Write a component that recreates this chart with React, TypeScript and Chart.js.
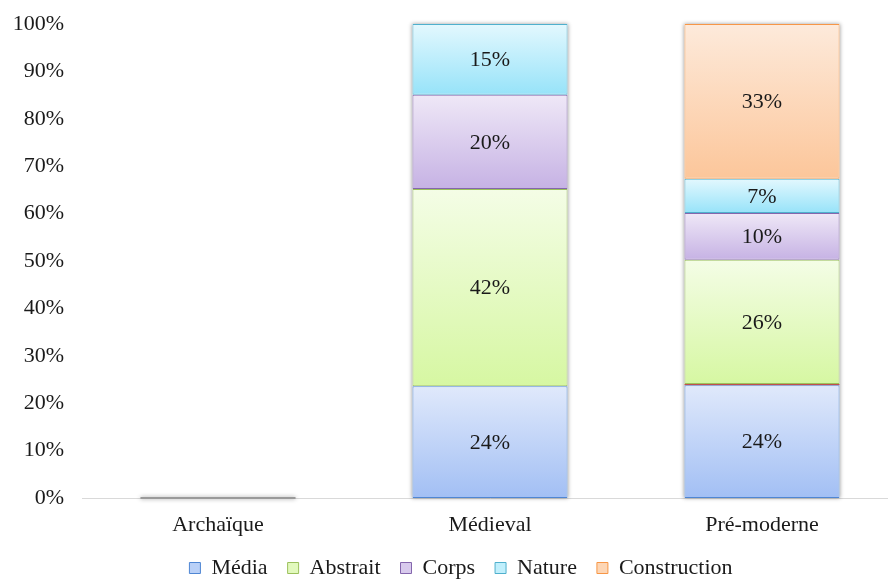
import React, { useEffect, useRef } from "react";
import { Chart, registerables } from "chart.js";

Chart.register(...registerables);

const categories = ["Archaïque", "Médieval", "Pré-moderne"];
const seriesNames = ["Média", "", "Abstrait", "Corps", "Nature", "Construction"];
const media = [0, 23.6, 23.8];
const trace = [0, 0, 0.25];
const abstrait = [0, 41.6, 26.2];
const corps = [0, 19.9, 9.9];
const nature = [0, 14.9, 7.2];
const construction = [0, 0, 32.65];
const yTicks = [0, 10, 20, 30, 40, 50, 60, 70, 80, 90, 100];

const seriesValues = [media, trace, abstrait, corps, nature, construction];
const gradTop = ["#e0e9fb", "#c0504d", "#f4fde6", "#efe8f7", "#e3f8fe", "#fdeadb"];
const gradBottom = ["#a2bff4", "#c0504d", "#d6f7a2", "#c6b2e4", "#97e3f9", "#fcc69a"];
const borders = ["#4f86d3", "#c0504d", "#9bc05c", "#8466ad", "#4fb0cd", "#f79646"];
const legendFill = ["#b9d0f7", "#c0504d", "#e2f9bd", "#d8caed", "#c0effc", "#fdd6b5"];

const FONT = "'Liberation Serif', 'Times New Roman', serif";

export default function App() {
  const ref = useRef<HTMLCanvasElement>(null);

  useEffect(() => {
    const canvas = ref.current;
    if (!canvas) return;

    const segGradient = (context: any) => {
      const chart = context.chart;
      const ds = context.datasetIndex;
      const i = context.dataIndex;
      const y = chart.scales && chart.scales.y;
      if (!y || !chart.chartArea || i === undefined) return gradBottom[ds];
      let start = 0;
      for (let k = 0; k < ds; k++) start += seriesValues[k][i];
      const end = start + seriesValues[ds][i];
      const p0 = y.getPixelForValue(start);
      const p1 = y.getPixelForValue(end);
      if (!isFinite(p0) || !isFinite(p1) || p0 === p1) return gradBottom[ds];
      const g = chart.ctx.createLinearGradient(0, p1, 0, p0);
      g.addColorStop(0, gradTop[ds]);
      g.addColorStop(1, gradBottom[ds]);
      return g;
    };

    const labelPlugin = {
      id: "segLabels",
      afterLayout(chart: any) {
        if (chart.legend) {
          chart.legend.left += 24;
        }
      },
      beforeDatasetsDraw(chart: any) {
        const ctx = chart.ctx;
        const yScale = chart.scales.y;
        const meta0 = chart.getDatasetMeta(0);
        categories.forEach((_, i) => {
          let total = 0;
          seriesValues.forEach((s) => (total += s[i]));
          const el = meta0.data[i];
          const y0 = yScale.getPixelForValue(0);
          ctx.save();
          ctx.shadowColor = "rgba(0,0,0,0.4)";
          ctx.shadowBlur = 4;
          if (total === 0) {
            ctx.strokeStyle = "#9a9a9a";
            ctx.lineWidth = 2;
            ctx.beginPath();
            ctx.moveTo(el.x - el.width / 2, y0);
            ctx.lineTo(el.x + el.width / 2, y0);
            ctx.stroke();
          } else {
            const yt = yScale.getPixelForValue(total);
            ctx.fillStyle = "#ffffff";
            ctx.fillRect(el.x - el.width / 2, yt, el.width, y0 - yt);
          }
          ctx.restore();
        });
      },
      afterDatasetsDraw(chart: any) {
        const ctx = chart.ctx;
        ctx.save();
        ctx.font = `22px ${FONT}`;
        ctx.fillStyle = "#1a1a1a";
        ctx.textAlign = "center";
        ctx.textBaseline = "middle";
        chart.data.datasets.forEach((d: any, di: number) => {
          const meta = chart.getDatasetMeta(di);
          d.data.forEach((v: number, i: number) => {
            if (v < 1) return;
            const el = meta.data[i];
            ctx.fillText(`${Math.round(v)}%`, el.x, (el.y + el.base) / 2 + 1);
          });
        });
        ctx.restore();
      },
    };

    const chart = new Chart(canvas, {
      type: "bar",
      data: {
        labels: categories,
        datasets: seriesValues.map((vals, k) => ({
          label: seriesNames[k],
          data: vals,
          backgroundColor: segGradient,
          borderColor: borders[k],
          borderWidth: k === 1 ? 0 : 1,
          borderSkipped: false,
          barPercentage: 0.57,
          categoryPercentage: 1,
        })),
      },
      options: {
        animation: false,
        responsive: false,
        devicePixelRatio: 1,
        layout: { padding: { top: 24, left: 0, right: 2, bottom: 0 } },
        scales: {
          x: {
            stacked: true,
            grid: { display: false, drawTicks: false },
            border: { display: true, color: "#d9d9d9", width: 1 },
            ticks: { color: "#1a1a1a", font: { family: FONT, size: 22 }, padding: 14 },
            afterFit: (s: any) => {
              s.height = 39;
            },
          },
          y: {
            stacked: true,
            min: 0,
            max: 100,
            afterBuildTicks: (s: any) => {
              s.ticks = yTicks.map((v) => ({ value: v }));
            },
            grid: { display: false, drawTicks: false },
            border: { display: false },
            ticks: {
              color: "#1a1a1a",
              font: { family: FONT, size: 22 },
              padding: 18,
              callback: (v: any) => `${v}%`,
            },
            afterFit: (s: any) => {
              s.width = 82;
              s.paddingTop = 0;
              s.paddingBottom = 0;
            },
          },
        },
        plugins: {
          tooltip: { enabled: false },
          legend: {
            position: "bottom",
            labels: {
              boxWidth: 11,
              boxHeight: 11,
              padding: 20,
              color: "#1a1a1a",
              font: { family: FONT, size: 22 },
              generateLabels: () =>
                seriesNames
                  .map((name, k) => ({
                    text: name,
                    fillStyle: legendFill[k],
                    strokeStyle: borders[k],
                    lineWidth: 1,
                    hidden: false,
                    datasetIndex: k,
                    fontColor: "#1a1a1a",
                  }))
                  .filter((it) => it.text !== ""),
            },
          },
        },
      },
      plugins: [labelPlugin],
    } as any);

    return () => chart.destroy();
  }, []);

  return (
    <div style={{ position: "fixed", left: 0, top: 0, width: 900, height: 589, background: "#fff" }}>
      <canvas ref={ref} width={900} height={589} style={{ display: "block", width: 900, height: 589 }} />
    </div>
  );
}
